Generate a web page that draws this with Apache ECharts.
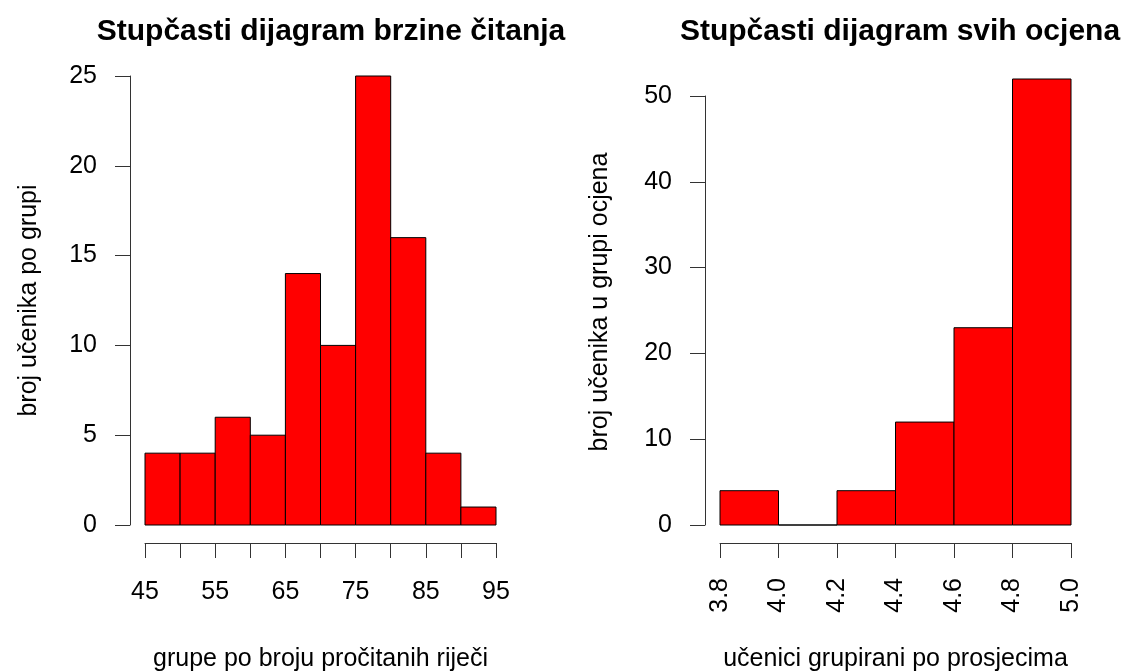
<!DOCTYPE html>
<html>
<head>
<meta charset="utf-8">
<script src="https://cdn.jsdelivr.net/npm/echarts@6/dist/echarts.min.js"></script>
<style>
html,body{margin:0;padding:0;background:#fff;}
#chart{width:1132px;height:671px;}
</style>
</head>
<body>
<div id="chart"></div>
<script>
// ---- Data ----
const speedEdges = [45, 50, 55, 60, 65, 70, 75, 80, 85, 90, 95];
const speedCounts = [4, 4, 6, 5, 14, 10, 25, 16, 4, 1];
const gradeEdges = [3.8, 4.0, 4.2, 4.4, 4.6, 4.8, 5.0];
const gradeCounts = [4, 0, 4, 12, 23, 52];
const titleLeft = 'Stupčasti dijagram brzine čitanja';
const titleRight = 'Stupčasti dijagram svih ocjena';
const xNameLeft = 'grupe po broju pročitanih riječi';
const yNameLeft = 'broj učenika po grupi';
const xNameRight = 'učenici grupirani po prosjecima';
const yNameRight = 'broj učenika u grupi ocjena';

function toBins(edges, counts) {
  return counts.map((c, i) => [edges[i], edges[i + 1], c]);
}

const FONT = 'Liberation Sans, Arial, Helvetica, sans-serif';
const AXC = '#333';
const txt = { color: '#000', fontFamily: FONT, fontSize: 25 };

function renderItem(params, api) {
  const p0 = api.coord([api.value(0), api.value(2)]);
  const p1 = api.coord([api.value(1), 0]);
  return {
    type: 'rect',
    shape: { x: p0[0], y: p0[1], width: p1[0] - p0[0], height: p1[1] - p0[1] },
    style: { fill: '#ff0000', stroke: '#000', lineWidth: 1 }
  };
}

const axisLineStyle = { show: true, onZero: false, lineStyle: { color: AXC, width: 1 } };
const tickStyle = { show: true, inside: false, length: 15, lineStyle: { color: AXC } };

const chart = echarts.init(document.getElementById('chart'), null, { renderer: 'canvas' });
chart.setOption({
  backgroundColor: '#fff',
  animation: false,
  title: [
    { text: titleLeft, left: 326, top: 12, textAlign: 'center',
      textStyle: { fontFamily: FONT, fontSize: 30, fontWeight: 'bold', color: '#000' } },
    { text: titleRight, left: 895, top: 12, textAlign: 'center',
      textStyle: { fontFamily: FONT, fontSize: 30, fontWeight: 'bold', color: '#000' } }
  ],
  grid: [
    { left: 145, top: 76, width: 351, height: 449, containLabel: false, outerBoundsMode: 'none' },
    { left: 720, top: 79, width: 351, height: 446, containLabel: false, outerBoundsMode: 'none' },
    { left: 720, top: 96, width: 351, height: 429, containLabel: false, outerBoundsMode: 'none' }
  ],
  xAxis: [
    { type: 'value', gridIndex: 0, min: 45, max: 95, interval: 5, offset: 18,
      axisLine: axisLineStyle, axisTick: tickStyle,
      axisLabel: { ...txt, margin: 37, formatter: v => ((v - 45) % 10 === 0 ? String(v) : '') },
      splitLine: { show: false },
      name: xNameLeft, nameLocation: 'middle', nameGap: 104, nameTextStyle: txt },
    { type: 'value', gridIndex: 1, min: 3.8, max: 5.0, interval: 0.2, offset: 18,
      axisLine: axisLineStyle, axisTick: tickStyle,
      axisLabel: { ...txt, margin: 35, rotate: 90, formatter: v => Number(v).toFixed(1) },
      splitLine: { show: false },
      name: xNameRight, nameLocation: 'middle', nameGap: 104, nameTextStyle: txt },
    { type: 'value', gridIndex: 2, min: 3.8, max: 5.0, show: false }
  ],
  yAxis: [
    { type: 'value', gridIndex: 0, min: 0, max: 25, interval: 5, offset: 15,
      axisLine: axisLineStyle, axisTick: tickStyle,
      axisLabel: { ...txt, margin: 33 },
      splitLine: { show: false },
      name: yNameLeft, nameLocation: 'middle', nameGap: 88, nameTextStyle: txt },
    { type: 'value', gridIndex: 1, min: 0, max: 52, offset: 15,
      axisLine: { show: false }, axisTick: { show: false }, axisLabel: { show: false },
      splitLine: { show: false },
      name: yNameRight, nameLocation: 'middle', nameGap: 92, nameTextStyle: txt },
    { type: 'value', gridIndex: 2, min: 0, max: 50, interval: 10, offset: 15,
      axisLine: axisLineStyle, axisTick: tickStyle,
      axisLabel: { ...txt, margin: 33 },
      splitLine: { show: false } }
  ],
  series: [
    { type: 'custom', xAxisIndex: 0, yAxisIndex: 0, renderItem,
      encode: { x: [0, 1], y: 2 }, data: toBins(speedEdges, speedCounts) },
    { type: 'custom', xAxisIndex: 1, yAxisIndex: 1, renderItem,
      encode: { x: [0, 1], y: 2 }, data: toBins(gradeEdges, gradeCounts) }
  ]
});
</script>
</body>
</html>
